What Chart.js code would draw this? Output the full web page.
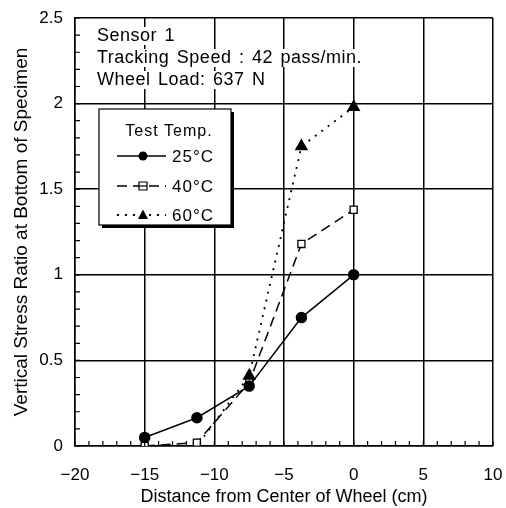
<!DOCTYPE html>
<html>
<head>
<meta charset="utf-8">
<script src="https://cdn.jsdelivr.net/npm/chart.js@4"></script>
<style>
  body { margin: 0; background: #fff; }
  #wrap { width: 506px; height: 508px; }
</style>
</head>
<body>
<div id="wrap"><canvas id="chart" width="506" height="508"></canvas></div>
<script>
// distance from wheel centre (cm)
var distance = [-15, -11.25, -7.5, -3.75, 0];
// vertical stress ratio for each test temperature
var temp25 = [0.05, 0.165, 0.35, 0.75, 1.0];
var temp40 = [0.0, 0.02, 0.37, 1.18, 1.38];
var temp60 = [0.0, 0.0, 0.41, 1.75, 1.98];
var seriesLabels = ['25\u00B0C', '40\u00B0C', '60\u00B0C'];
var infoLines = ['Sensor 1', 'Tracking Speed : 42 pass/min.', 'Wheel Load: 637 N'];

var FONT = "'Liberation Sans', Arial, sans-serif";

function pts(ys) {
    return distance.map(function (x, i) { return { x: x, y: ys[i] }; });
}

// minor ticks, info text and the boxed legend
var extras = {
    id: 'extras',
    afterDraw: function (chart) {
        var ctx = chart.ctx;
        var xs = chart.scales.x, ys = chart.scales.y;
        var a = chart.chartArea;
        ctx.save();
        ctx.strokeStyle = '#000';
        ctx.lineWidth = 1.2;
        ctx.beginPath();
        for (var v = -20; v <= 10; v++) {
            var px = xs.getPixelForValue(v);
            ctx.moveTo(px, a.bottom);
            ctx.lineTo(px, a.bottom - 5);
        }
        for (var k = 0; k <= 25; k++) {
            var py = ys.getPixelForValue(k / 10);
            ctx.moveTo(a.left, py);
            ctx.lineTo(a.left + 5, py);
        }
        ctx.stroke();

        // info text
        ctx.font = '18px ' + FONT;
        ctx.letterSpacing = '0.5px';
        ctx.wordSpacing = '2px';
        ctx.textBaseline = 'middle';
        ctx.textAlign = 'left';
        infoLines.forEach(function (t, i) {
            var y = 36 + i * 22;
            var w = ctx.measureText(t).width;
            ctx.fillStyle = '#fff';
            ctx.fillRect(95, y - 9, w + 4, 18);
            ctx.fillStyle = '#000';
            ctx.fillText(t, 97, y);
        });
        ctx.letterSpacing = '1px';
        ctx.wordSpacing = '0px';

        // legend box
        var bx = 99, by = 109, bw = 132, bh = 116;
        ctx.fillStyle = '#000';
        ctx.fillRect(bx + 3, by + 3, bw, bh);
        ctx.fillStyle = '#fff';
        ctx.fillRect(bx, by, bw, bh);
        ctx.lineWidth = 1.2;
        ctx.strokeRect(bx, by, bw, bh);
        ctx.fillStyle = '#000';
        ctx.textAlign = 'center';
        ctx.font = '16px ' + FONT;
        ctx.fillText('Test Temp.', 169, 132);
        ctx.textAlign = 'left';
        var rowY = [156, 186, 215];
        chart.data.datasets.forEach(function (ds, i) {
            var y = rowY[i];
            ctx.strokeStyle = '#000';
            ctx.lineWidth = ds.borderWidth;
            ctx.setLineDash(ds.borderDash || []);
            ctx.beginPath();
            ctx.moveTo(117, y);
            ctx.lineTo(166, y);
            ctx.stroke();
            ctx.setLineDash([]);
            ctx.lineWidth = 1.2;
            ctx.fillStyle = ds.pointBackgroundColor;
            ctx.beginPath();
            if (ds.pointStyle === 'circle') {
                ctx.arc(143, y, 4.5, 0, Math.PI * 2);
                ctx.fill();
            } else if (ds.pointStyle === 'rect') {
                ctx.rect(139, y - 4, 8, 8);
                ctx.fill();
                ctx.stroke();
                ctx.beginPath();
                ctx.moveTo(139, y);
                ctx.lineTo(147, y);
                ctx.stroke();
            } else {
                ctx.moveTo(143, y - 5.5);
                ctx.lineTo(148, y + 4);
                ctx.lineTo(138, y + 4);
                ctx.closePath();
                ctx.fill();
            }
            ctx.fillStyle = '#000';
            ctx.font = '17px ' + FONT;
            ctx.fillText(ds.label, 172, y + 1);
        });
        ctx.restore();
    }
};

var ctx = document.getElementById('chart').getContext('2d');
ctx.letterSpacing = '1px';

new Chart(ctx, {
    type: 'scatter',
    data: {
        datasets: [
            {
                label: seriesLabels[0],
                data: pts(temp25),
                showLine: true,
                borderColor: '#000',
                borderWidth: 1.5,
                pointStyle: 'circle',
                pointRadius: 5,
                pointBackgroundColor: '#000',
                pointBorderColor: '#000'
            },
            {
                label: seriesLabels[1],
                data: pts(temp40),
                showLine: true,
                borderColor: '#000',
                borderWidth: 1.5,
                borderDash: [10, 6],
                pointStyle: 'rect',
                pointRadius: 5,
                pointBorderWidth: 1.3,
                pointBackgroundColor: '#fff',
                pointBorderColor: '#000'
            },
            {
                label: seriesLabels[2],
                data: pts(temp60),
                showLine: true,
                borderColor: '#000',
                borderWidth: 1.8,
                borderDash: [2, 6],
                pointStyle: 'triangle',
                pointRadius: 6,
                pointBackgroundColor: '#000',
                pointBorderColor: '#000'
            }
        ]
    },
    options: {
        responsive: false,
        animation: false,
        layout: { padding: { top: 18, right: 13, left: 10, bottom: 0 } },
        plugins: {
            legend: { display: false },
            tooltip: { enabled: false }
        },
        scales: {
            x: {
                type: 'linear',
                min: -20,
                max: 10,
                afterFit: function (s) {
                    s.height = 62;
                    s.paddingLeft = 0;
                    s.paddingRight = 0;
                },
                ticks: {
                    stepSize: 5,
                    maxRotation: 0,
                    color: '#000',
                    font: { family: FONT, size: 17 },
                    padding: 19,
                    callback: function (v) { return String(v).replace('-', '\u2212'); }
                },
                grid: { color: '#000', lineWidth: 1.5, drawTicks: false },
                border: { color: '#000', width: 1.5 },
                title: {
                    display: true,
                    text: 'Distance from Center of Wheel (cm)',
                    color: '#000',
                    font: { family: FONT, size: 18 },
                    padding: { top: 1, bottom: 0 }
                }
            },
            y: {
                min: 0,
                max: 2.5,
                afterFit: function (s) {
                    s.width = 65;
                    s.paddingTop = 0;
                    s.paddingBottom = 0;
                },
                ticks: {
                    stepSize: 0.5,
                    color: '#000',
                    font: { family: FONT, size: 17 },
                    padding: 12,
                    callback: function (v) { return String(v); }
                },
                grid: { color: '#000', lineWidth: 1.5, drawTicks: false },
                border: { color: '#000', width: 1.5 },
                title: {
                    display: true,
                    text: 'Vertical Stress Ratio at Bottom of Specimen',
                    color: '#000',
                    font: { family: FONT, size: 19 },
                    padding: { top: 0, bottom: 0 }
                }
            }
        }
    },
    plugins: [extras]
});
</script>
</body>
</html>
